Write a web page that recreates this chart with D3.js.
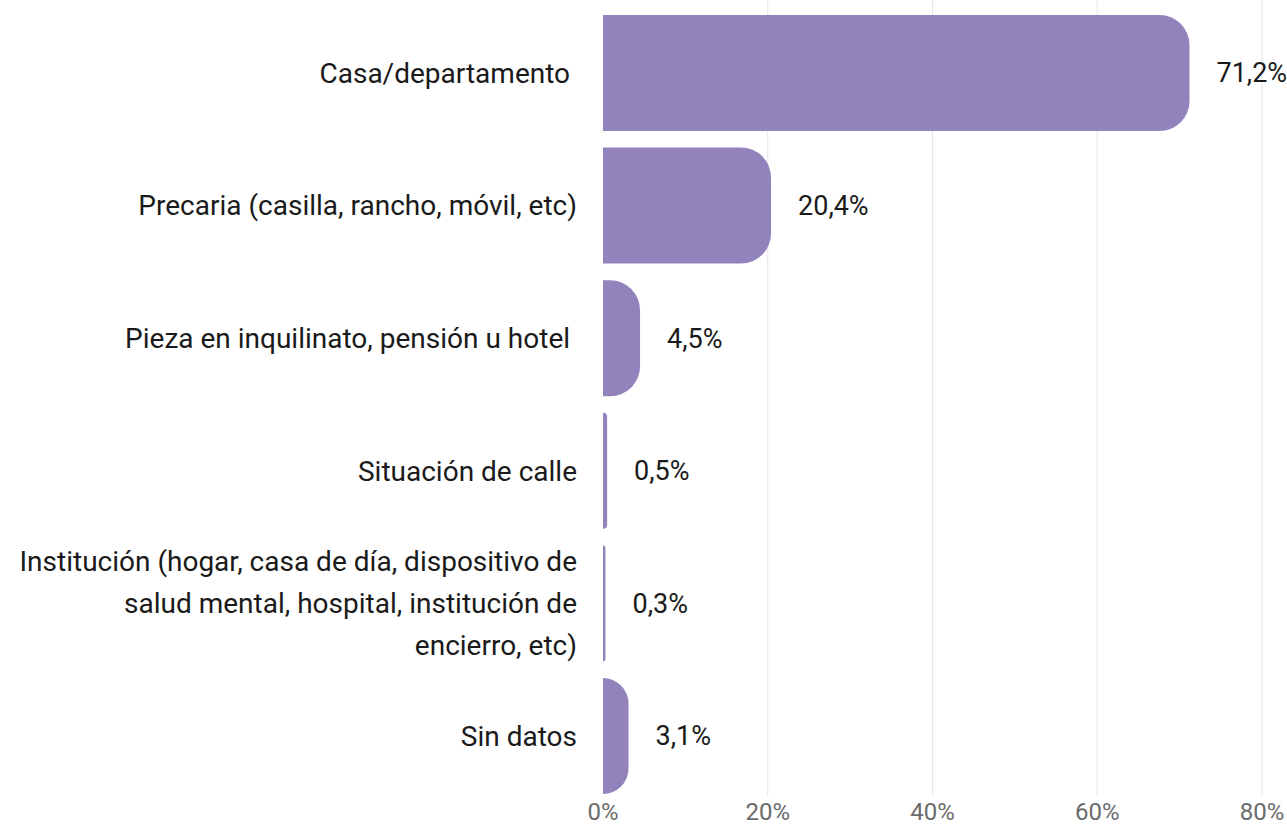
<!DOCTYPE html>
<html><head><meta charset="utf-8">
<script src="https://cdn.jsdelivr.net/npm/d3@7"></script>
<style>
body{margin:0;background:#fff;}
text{font-family:Roboto,"Noto Sans",sans-serif;}
</style></head>
<body><svg id="c" width="1287" height="825"></svg>
<script>
const categories = [
  ["Casa/departamento "],
  ["Precaria (casilla, rancho, móvil, etc)"],
  ["Pieza en inquilinato, pensión u hotel "],
  ["Situación de calle"],
  ["Institución (hogar, casa de día, dispositivo de","salud mental, hospital, institución de","encierro, etc)"],
  ["Sin datos"]
];
const values = [71.2, 20.4, 4.5, 0.5, 0.3, 3.1];
const valueLabels = ["71,2%","20,4%","4,5%","0,5%","0,3%","3,1%"];
const ticks = [0, 20, 40, 60, 80];
const tickLabels = ["0%","20%","40%","60%","80%"];

const svg = d3.select("#c");
const x = d3.scaleLinear().domain([0, 80]).range([603, 1262]);
const y = d3.scaleBand().domain(d3.range(categories.length)).range([6.7, 802.3]).paddingInner(0.125).paddingOuter(0.0625);

// gridlines
svg.append("g").selectAll("line").data(ticks.slice(1)).join("line")
  .attr("x1", d => x(d)).attr("x2", d => x(d))
  .attr("y1", 0).attr("y2", 796)
  .attr("stroke", "#e5e5e5").attr("stroke-width", 1);

// bars
function barPath(v, i) {
  const x0 = x(0), x1 = x(v), y0 = y(i), h = y.bandwidth(), w = x1 - x0;
  const r = Math.min(30, w, h / 2);
  return `M${x0},${y0}H${x1 - r}A${r},${r} 0 0 1 ${x1},${y0 + r}V${y0 + h - r}A${r},${r} 0 0 1 ${x1 - r},${y0 + h}H${x0}Z`;
}
svg.append("g").selectAll("path").data(values).join("path")
  .attr("d", (d, i) => barPath(d, i))
  .attr("fill", "#9283bd");

// value labels
svg.append("g").selectAll("text").data(values).join("text")
  .attr("x", d => x(d) + 27)
  .attr("y", (d, i) => y(i) + y.bandwidth() / 2)
  .attr("dy", "0.35em")
  .attr("font-size", 27).attr("fill", "#1a1a1a")
  .text((d, i) => valueLabels[i]);

// category labels
const fs = 28;
const cl = svg.append("g").selectAll("text").data(categories).join("text")
  .attr("x", 577)
  .attr("y", (d, i) => y(i) + y.bandwidth() / 2)
  .attr("text-anchor", "end")
  .attr("font-size", fs).attr("fill", "#1a1a1a")
  .style("white-space", "pre");
cl.each(function(lines) {
  const t = d3.select(this);
  const lh = 42;
  lines.forEach((ln, k) => {
    t.append("tspan").attr("x", 577)
      .attr("dy", k === 0 ? (0.35 * fs - (lines.length - 1) * lh / 2) : lh)
      .text(ln);
  });
});

// x axis tick labels
svg.append("g").selectAll("text").data(ticks).join("text")
  .attr("x", d => x(d)).attr("y", 812).attr("dy", "0.35em")
  .attr("text-anchor", "middle").attr("font-size", 24).attr("fill", "#6b6b6b")
  .text((d, i) => tickLabels[i]);
</script></body></html>
